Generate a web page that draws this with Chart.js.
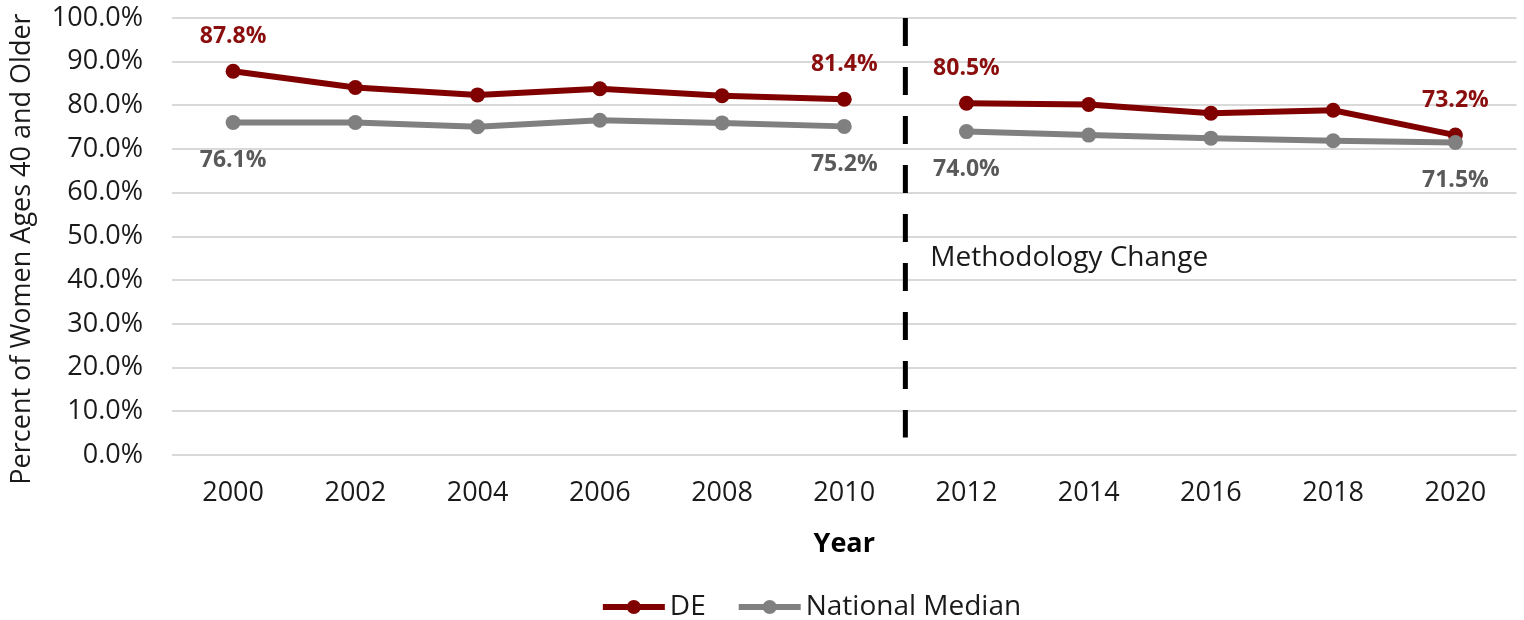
<!DOCTYPE html>
<html lang="en">
<head>
    <meta charset="UTF-8">
    <title>Percent of Women Ages 40 and Older</title>
    <script src="https://cdn.jsdelivr.net/npm/chart.js"></script>
    <style>
        body {
            margin: 0;
            padding: 0;
            background: #ffffff;
        }
        #wrap {
            width: 1524px;
            height: 620px;
        }
    </style>
</head>
<body>
    <div id="wrap">
        <canvas id="trendChart" width="1524" height="620"></canvas>
    </div>

    <script>
        // Data
        const years = ['2000', '2002', '2004', '2006', '2008', '2010', '2012', '2014', '2016', '2018', '2020'];
        const deValues = [87.8, 84.1, 82.4, 83.8, 82.2, 81.4, 80.5, 80.2, 78.2, 78.9, 73.2];
        const nationalValues = [76.1, 76.1, 75.1, 76.6, 76.0, 75.2, 74.0, 73.2, 72.5, 71.9, 71.5];
        const yTicks = [0, 10, 20, 30, 40, 50, 60, 70, 80, 90, 100];
        const labelledPoints = [0, 5, 6, 10];   // points that carry a value label
        const breakAfter = 5;                   // methodology change between 2010 and 2012

        const FONT = "'Open Sans', 'Noto Sans', sans-serif";
        const deColor = '#800000';
        const deLabelColor = '#8b0e0e';
        const natColor = '#808080';
        const natLabelColor = '#595959';

        // value labels at the ends of each segment
        const valueLabels = {
            id: 'valueLabels',
            afterDatasetsDraw(chart) {
                const ctx = chart.ctx;
                ctx.save();
                ctx.font = 'bold 23px ' + FONT;
                ctx.textAlign = 'center';
                ctx.textBaseline = 'middle';
                chart.data.datasets.forEach((ds, di) => {
                    const meta = chart.getDatasetMeta(di);
                    labelledPoints.forEach(i => {
                        const pt = meta.data[i];
                        ctx.fillStyle = ds.labelColor;
                        ctx.fillText(ds.data[i].toFixed(1) + '%', pt.x, pt.y + ds.labelOffset);
                    });
                });
                ctx.restore();
            }
        };

        // dashed divider + annotation text
        const methodologyLine = {
            id: 'methodologyLine',
            beforeDatasetsDraw(chart) {
                const { ctx, chartArea, scales } = chart;
                const x = (scales.x.getPixelForValue(breakAfter) + scales.x.getPixelForValue(breakAfter + 1)) / 2;
                ctx.save();
                ctx.strokeStyle = '#000000';
                ctx.lineWidth = 5;
                ctx.setLineDash([28, 21]);
                ctx.beginPath();
                ctx.moveTo(x, chartArea.top);
                ctx.lineTo(x, scales.y.getPixelForValue(4));
                ctx.stroke();
                ctx.setLineDash([]);
                ctx.fillStyle = '#1a1a1a';
                ctx.font = '28px ' + FONT;
                ctx.textAlign = 'left';
                ctx.textBaseline = 'middle';
                ctx.fillText('Methodology Change', x + 25, scales.y.getPixelForValue(45));
                ctx.restore();
            }
        };

        // y axis title, sits a little below the middle of the plot like the original
        const yTitle = {
            id: 'yTitle',
            afterDraw(chart) {
                const ctx = chart.ctx;
                ctx.save();
                ctx.translate(22, 249);
                ctx.rotate(-Math.PI / 2);
                ctx.font = '27px ' + FONT;
                ctx.fillStyle = '#1a1a1a';
                ctx.textAlign = 'center';
                ctx.textBaseline = 'middle';
                ctx.fillText('Percent of Women Ages 40 and Older', 0, 0);
                ctx.restore();
            }
        };

        // legend with line + marker swatches
        const lineLegend = {
            id: 'lineLegend',
            afterDraw(chart) {
                const ctx = chart.ctx;
                const y = 607;
                const swatch = 62;
                ctx.save();
                ctx.font = '28px ' + FONT;
                ctx.textBaseline = 'middle';
                const items = chart.data.datasets.map(ds => ({
                    ds, w: swatch + 5 + ctx.measureText(ds.label).width
                }));
                const gap = 33;
                const total = items.reduce((s, it) => s + it.w, 0) + gap * (items.length - 1);
                let x = 812 - total / 2;
                items.forEach(it => {
                    ctx.strokeStyle = it.ds.borderColor;
                    ctx.lineWidth = 6;
                    ctx.beginPath();
                    ctx.moveTo(x, y);
                    ctx.lineTo(x + swatch, y);
                    ctx.stroke();
                    ctx.fillStyle = it.ds.borderColor;
                    ctx.beginPath();
                    ctx.arc(x + swatch / 2, y, 7, 0, Math.PI * 2);
                    ctx.fill();
                    ctx.fillStyle = '#1a1a1a';
                    ctx.fillText(it.ds.label, x + swatch + 5, y);
                    x += it.w + gap;
                });
                ctx.restore();
            }
        };

        const hideBreak = c => c.p0DataIndex === breakAfter ? 'rgba(0,0,0,0)' : undefined;

        const ctx = document.getElementById('trendChart').getContext('2d');
        const trendChart = new Chart(ctx, {
            type: 'line',
            data: {
                labels: years,
                datasets: [
                    {
                        label: 'DE',
                        data: deValues,
                        borderColor: deColor,
                        backgroundColor: deColor,
                        pointBackgroundColor: deColor,
                        borderWidth: 6,
                        pointRadius: 7.5,
                        pointBorderWidth: 0,
                        tension: 0,
                        order: 1,
                        labelColor: deLabelColor,
                        labelOffset: -35,
                        segment: { borderColor: hideBreak },
                    },
                    {
                        label: 'National Median',
                        data: nationalValues,
                        borderColor: natColor,
                        backgroundColor: natColor,
                        pointBackgroundColor: natColor,
                        borderWidth: 6,
                        pointRadius: 7.5,
                        pointBorderWidth: 0,
                        tension: 0,
                        order: 0,
                        labelColor: natLabelColor,
                        labelOffset: 38,
                        segment: { borderColor: hideBreak },
                    },
                ],
            },
            options: {
                responsive: false,
                animation: false,
                layout: {
                    padding: { top: 18, right: 2, bottom: 60, left: 0 },
                },
                plugins: {
                    legend: { display: false },
                    tooltip: { enabled: false },
                },
                scales: {
                    x: {
                        offset: true,
                        grid: { display: false },
                        border: { display: false },
                        ticks: {
                            color: '#1a1a1a',
                            font: { family: FONT, size: 27 },
                            padding: 14,
                            maxRotation: 0,
                        },
                        title: {
                            display: true,
                            text: 'Year',
                            color: '#000000',
                            font: { family: FONT, size: 27, weight: 'bold', lineHeight: 1 },
                            padding: { top: 0, bottom: 2 },
                        },
                        afterFit(scale) {
                            scale.height = 105;
                        },
                    },
                    y: {
                        min: 0,
                        max: 100,
                        afterBuildTicks(scale) {
                            scale.ticks = yTicks.map(v => ({ value: v }));
                        },
                        grid: {
                            color: '#d9d9d9',
                            lineWidth: 2,
                            drawTicks: false,
                        },
                        border: { display: false },
                        ticks: {
                            color: '#1a1a1a',
                            font: { family: FONT, size: 27 },
                            padding: 29,
                            callback: v => v.toFixed(1) + '%',
                        },
                        afterFit(scale) {
                            scale.width = 172;
                            scale.paddingTop = 16;
                            scale.paddingBottom = 16;
                        },
                    },
                },
            },
            plugins: [methodologyLine, valueLabels, yTitle, lineLegend],
        });
    </script>
</body>
</html>
